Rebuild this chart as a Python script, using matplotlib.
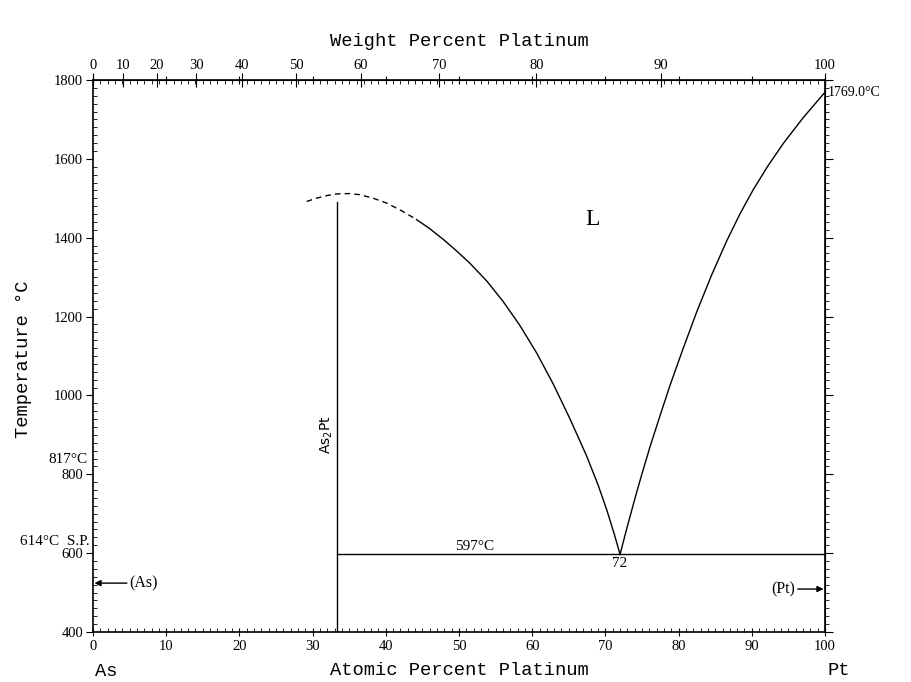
import numpy as np
import matplotlib
matplotlib.use("Agg")
import matplotlib.pyplot as plt
from matplotlib.ticker import MultipleLocator

# atomic masses for the weight-percent axis
M_AS = 74.92
M_PT = 195.08

# liquidus, As2Pt side (dashed part, then solid part)
liq_dash_x = [29.2, 30.5, 32.0, 33.3, 35.0, 36.5, 38.3, 40.1, 42.2, 44.2]
liq_dash_t = [1492, 1500, 1507, 1511, 1512, 1509, 1500, 1488, 1468, 1446]
liq_left_x = [44.2, 46.0, 47.9, 49.7, 51.5, 53.8, 56.0, 58.3, 60.6, 62.9,
              65.2, 67.4, 69.0, 70.2, 71.2, 72.0]
liq_left_t = [1446, 1423, 1395, 1366, 1335, 1290, 1239, 1178, 1108, 1028,
              939, 848, 773, 709, 649, 597]
# liquidus, Pt side
liq_right_x = [72.0, 73.0, 74.1, 75.1, 76.1, 77.4, 78.8, 80.6, 82.5, 84.5,
               86.6, 88.4, 90.2, 92.2, 94.3, 97.0, 100.0]
liq_right_t = [597, 668, 743, 808, 870, 945, 1024, 1118, 1213, 1305,
               1393, 1461, 1522, 1582, 1639, 1704, 1769]

# compound and eutectic
comp_x = 33.3
comp_t = [400, 1490]
eut_x = [33.3, 100]
eut_t = 597

wt_ticks = [0, 10, 20, 30, 40, 50, 60, 70, 80, 90, 100]
t_ticks = [400, 600, 800, 1000, 1200, 1400, 1600, 1800]
at_ticks = [0, 10, 20, 30, 40, 50, 60, 70, 80, 90, 100]


def at2wt(a):
    a = np.asarray(a, dtype=float)
    return 100 * a * M_PT / (a * M_PT + (100 - a) * M_AS)


def wt2at(w):
    w = np.asarray(w, dtype=float)
    return 100 * (w / M_PT) / (w / M_PT + (100 - w) / M_AS)


serif = "Liberation Serif"
mono = "Liberation Mono"

fig = plt.figure(figsize=(9.12, 6.82), dpi=100)
ax = fig.add_axes([93 / 912, 1 - 632 / 682, 732 / 912, 552 / 682])

lw = 1.0
ax.plot(liq_dash_x, liq_dash_t, color="k", lw=lw, ls=(0, (4, 3)))
ax.plot(liq_left_x, liq_left_t, color="k", lw=lw)
ax.plot(liq_right_x, liq_right_t, color="k", lw=lw)
ax.plot([comp_x, comp_x], comp_t, color="k", lw=lw)
ax.plot(eut_x, [eut_t, eut_t], color="k", lw=lw)

ax.set_xlim(0, 100)
ax.set_ylim(400, 1800)

# bottom / top ticks (atomic %)
ax.set_xticks(at_ticks)
ax.xaxis.set_minor_locator(MultipleLocator(1))
ax.tick_params(axis="x", which="major", direction="inout", length=6,
               top=True, labelsize=10.5, pad=3)
ax.tick_params(axis="x", which="minor", direction="in", length=3, top=True)
for lab in ax.get_xticklabels():
    lab.set_family(serif)

# left ticks
ax.set_yticks(t_ticks)
ax.yaxis.set_minor_locator(MultipleLocator(20))
ax.tick_params(axis="y", which="major", direction="out", length=5,
               labelsize=10.5, pad=2)
ax.tick_params(axis="y", which="minor", direction="in", length=3)
for lab in ax.get_yticklabels():
    lab.set_family(serif)

# right ticks
ry = ax.secondary_yaxis("right")
ry.set_yticks(t_ticks)
ry.yaxis.set_minor_locator(MultipleLocator(20))
ry.tick_params(which="major", direction="out", length=6, labelright=False)
ry.tick_params(which="minor", direction="out", length=3)

# weight percent axis on top
top = ax.secondary_xaxis("top", functions=(at2wt, wt2at))
top.set_xticks(wt_ticks)
top.tick_params(which="major", direction="inout", length=10,
                labelsize=10.5, pad=1)
top.xaxis.set_minor_locator(plt.NullLocator())
for lab in top.get_xticklabels():
    lab.set_family(serif)

for sp in ax.spines.values():
    sp.set_linewidth(1.2)

# axis titles
ax.text(0.5, 1.069, "Weight Percent Platinum", transform=ax.transAxes,
        ha="center", va="center", family=mono, fontsize=13.5)
ax.text(0.5, -0.069, "Atomic Percent Platinum", transform=ax.transAxes,
        ha="center", va="center", family=mono, fontsize=13.5)
ax.text(-0.095, 0.495, "Temperature \u00b0C", transform=ax.transAxes,
        ha="center", va="center", rotation=90, family=mono, fontsize=13.5)
ax.text(0.3, -0.072, "As", transform=ax.get_xaxis_transform(),
        ha="left", va="center", family=mono, fontsize=13.5)
ax.text(100.4, -0.07, "Pt", transform=ax.get_xaxis_transform(),
        ha="left", va="center", family=mono, fontsize=13.5)

# annotations
ytr = ax.get_yaxis_transform()
ax.text(-0.004, 629, "614\u00b0C  S.P.", transform=ytr, ha="right",
        va="center", family=serif, fontsize=11)
ax.text(-0.008, 837, "817\u00b0C", transform=ytr, ha="right", va="center",
        family=serif, fontsize=11)
ax.text(100.4, 1768, "1769.0\u00b0C", ha="left", va="center",
        family=serif, fontsize=10)
ax.text(52.2, eut_t + 4, "597\u00b0C", ha="center", va="bottom",
        family=serif, fontsize=11)
ax.text(72, eut_t - 6, "72", ha="center", va="top", family=serif, fontsize=11)
ax.text(68.2, 1446, "L", ha="center", va="center", family=serif, fontsize=17)
ax.text(32.0, 902, "As$_2$Pt", rotation=90, ha="center", va="center",
        family="DejaVu Sans", fontsize=10)

arrow = dict(arrowstyle="-|>", color="k", lw=1, mutation_scale=9,
             shrinkA=0, shrinkB=0)
ax.annotate("(As)", xy=(0.2, 524), xytext=(5.0, 524), ha="left", va="center",
            family=serif, fontsize=11.5, arrowprops=arrow)
ax.annotate("(Pt)", xy=(99.8, 509), xytext=(95.9, 509), ha="right", va="center",
            family=serif, fontsize=11.5, arrowprops=arrow)

fig.savefig("out.png", dpi=100)
